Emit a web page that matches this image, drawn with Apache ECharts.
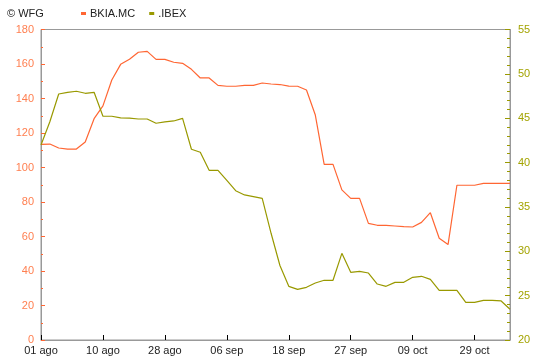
<!DOCTYPE html>
<html><head><meta charset="utf-8">
<script src="https://cdn.jsdelivr.net/npm/echarts@6/dist/echarts.min.js"></script>
<style>html,body{margin:0;padding:0;background:#fff}#c{width:550px;height:360px}</style>
</head><body><div id="c"></div>
<script>
const categories = ['01 ago','02 ago','03 ago','06 ago','07 ago','08 ago','09 ago','10 ago',
 '13 ago','14 ago','16 ago','20 ago','22 ago','24 ago','28 ago',
 '29 ago','30 ago','31 ago','03 sep','04 sep','05 sep','06 sep',
 '07 sep','10 sep','11 sep','12 sep','13 sep','14 sep','18 sep',
 '19 sep','20 sep','21 sep','24 sep','25 sep','26 sep','27 sep',
 '28 sep','01 oct','02 oct','03 oct','04 oct','05 oct','09 oct',
 '10 oct','11 oct','15 oct','17 oct','19 oct','24 oct','29 oct',
 '30 oct','31 oct','02 nov','05 nov'];
const bkiaValues = [113.4,113.6,111.3,110.7,110.7,114.8,128.3,135.7,150.7,159.8,162.7,166.8,167.3,162.7,162.7,
 161.0,160.4,156.9,151.9,151.9,147.6,147.1,147.1,147.6,147.6,149.0,148.4,148.1,147.2,
 147.1,144.9,130.4,101.8,101.8,87.0,82.1,82.1,67.6,66.5,66.5,66.1,65.7,65.5,
 68.2,73.8,59.0,55.3,89.7,89.7,89.7,90.8,90.8,90.8,90.8];
const ibexValues = [41.98,44.6,47.73,47.92,48.04,47.81,47.92,45.22,45.22,45.03,45.0,44.91,44.91,44.43,44.58,
 44.69,44.99,41.5,41.16,39.13,39.13,38.0,36.83,36.35,36.16,35.97,32.03,28.4,26.05,
 25.71,25.94,26.43,26.73,26.73,29.77,27.63,27.74,27.55,26.31,26.05,26.5,26.5,27.07,
 27.18,26.84,25.6,25.6,25.6,24.25,24.25,24.47,24.47,24.4,23.46];
const leftTicks = {min:0, max:180, interval:20};
const rightTicks = {min:20, max:55, interval:5};

const ORANGE = '#ff6633', ORANGE_TXT = '#ff7f50', OLIVE = '#999900', OLIVE_TXT = '#a3a300', GRAY = '#999999';
const FONT = 'Liberation Sans, Arial, sans-serif';
const chart = echarts.init(document.getElementById('c'), null, {renderer:'canvas'});
chart.setOption({
  animation:false,
  backgroundColor:'#fff',
  title:{text:'© WFG', left:2, top:3, textStyle:{fontSize:11, fontWeight:'normal', color:'#222', fontFamily:FONT}},
  legend:{left:76, top:3, icon:'rect', itemWidth:5, itemHeight:3, itemGap:14,
    textStyle:{fontSize:11, color:'#222', fontFamily:FONT, padding:[0,0,0,-1]},
    data:[{name:'BKIA.MC', itemStyle:{color:ORANGE}}, {name:'.IBEX', itemStyle:{color:OLIVE}}]},
  grid:{left:41, right:40, top:29.5, bottom:20, show:true, borderColor:GRAY, borderWidth:1, containLabel:false},
  xAxis:{type:'category', data:categories, boundaryGap:false,
    axisLine:{lineStyle:{color:GRAY}},
    axisTick:{inside:true, length:5, interval:6, lineStyle:{color:'#000'}},
    axisLabel:{interval:6, color:'#222', fontSize:11, fontFamily:FONT, margin:5},
    splitLine:{show:false}},
  yAxis:[
    {type:'value', position:'left', min:leftTicks.min, max:leftTicks.max, interval:leftTicks.interval,
     axisLine:{show:true, lineStyle:{color:GRAY}},
     axisTick:{show:true, inside:true, length:4, lineStyle:{color:ORANGE}},
     minorTick:{show:true, splitNumber:2, length:2, lineStyle:{color:ORANGE}},
     axisLabel:{color:ORANGE_TXT, fontSize:11, fontFamily:FONT, margin:7},
     splitLine:{show:false}},
    {type:'value', position:'right', min:rightTicks.min, max:rightTicks.max, interval:rightTicks.interval,
     axisLine:{show:true, lineStyle:{color:GRAY}},
     axisTick:{show:true, inside:true, length:5, lineStyle:{color:OLIVE}},
     minorTick:{show:true, splitNumber:5, length:3, lineStyle:{color:OLIVE}},
     axisLabel:{color:OLIVE_TXT, fontSize:11, fontFamily:FONT, margin:8},
     splitLine:{show:false}}
  ],
  series:[
    {name:'BKIA.MC', type:'line', yAxisIndex:0, data:bkiaValues, showSymbol:false, symbol:'none',
     lineStyle:{color:ORANGE, width:1.2}, itemStyle:{color:ORANGE}},
    {name:'.IBEX', type:'line', yAxisIndex:1, data:ibexValues, showSymbol:false, symbol:'none',
     lineStyle:{color:OLIVE, width:1.2}, itemStyle:{color:OLIVE}}
  ]
});
</script></body></html>
